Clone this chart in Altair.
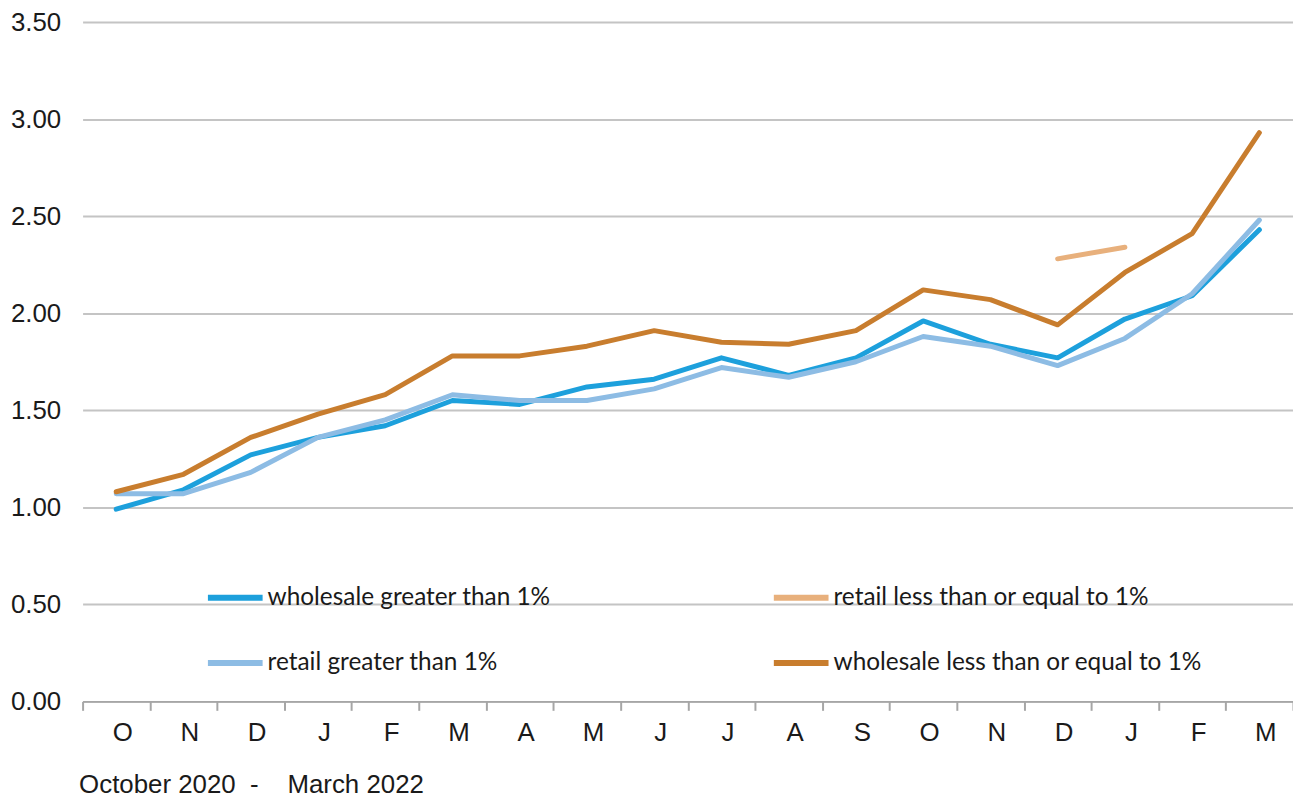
import altair as alt
import pandas as pd

months = ["Oct 2020", "Nov 2020", "Dec 2020", "Jan 2021", "Feb 2021", "Mar 2021",
          "Apr 2021", "May 2021", "Jun 2021", "Jul 2021", "Aug 2021", "Sep 2021",
          "Oct 2021", "Nov 2021", "Dec 2021", "Jan 2022", "Feb 2022", "Mar 2022"]

wholesale_gt1 = [0.99, 1.09, 1.27, 1.36, 1.42, 1.55, 1.53, 1.62, 1.66, 1.77, 1.68, 1.77,
                 1.96, 1.84, 1.77, 1.97, 2.09, 2.43]
retail_gt1 = [1.07, 1.07, 1.18, 1.36, 1.45, 1.58, 1.55, 1.55, 1.61, 1.72, 1.67, 1.75,
              1.88, 1.83, 1.73, 1.87, 2.10, 2.48]
wholesale_le1 = [1.08, 1.17, 1.36, 1.48, 1.58, 1.78, 1.78, 1.83, 1.91, 1.85, 1.84, 1.91,
                 2.12, 2.07, 1.94, 2.21, 2.41, 2.93]
retail_le1 = [None] * 14 + [2.28, 2.34, None, None]

# legend is filled column by column: col 1 = first two, col 2 = last two
series_names = ["wholesale greater than 1%", "retail greater than 1%",
                "retail less than or equal to 1%", "wholesale less than or equal to 1%"]
series_values = [wholesale_gt1, retail_gt1, retail_le1, wholesale_le1]
series_colors = ["#1DA0DC", "#8DBCE4", "#E8B07C", "#C87D2E"]

rows = []
for name, vals in zip(series_names, series_values):
    for m, v in zip(months, vals):
        rows.append({"month": m, "series": name, "value": v})
df = pd.DataFrame(rows)

title_text = "October 2020\u00a0\u00a0-\u00a0\u00a0\u00a0\u00a0March 2022"

chart = alt.Chart(df).mark_line(strokeWidth=5, strokeCap="round", strokeJoin="round").encode(
    x=alt.X("month:N", sort=months, bandPosition=0.5,
            scale=alt.Scale(type="band", paddingInner=0, paddingOuter=0),
            axis=alt.Axis(title=title_text,
                          titleFont="Liberation Sans", titleFontSize=26, titleFontWeight="normal",
                          titleColor="#1a1a1a", titleAnchor="start", titleAlign="left",
                          titleX=-4, titleY=84, titleBaseline="middle",
                          labelExpr="substring(datum.label, 0, 1)", labelAngle=0,
                          labelFont="Liberation Sans", labelFontSize=26, labelColor="#1a1a1a",
                          labelPadding=9, labelOffset=6, tickBand="extent", tickSize=9,
                          tickWidth=2, tickColor="#A6A6A6", domainColor="#A6A6A6",
                          domainWidth=2, grid=False)),
    y=alt.Y("value:Q", scale=alt.Scale(domain=[0, 3.5], nice=False),
            axis=alt.Axis(title=None, values=[0, 0.5, 1, 1.5, 2, 2.5, 3, 3.5], format=".2f",
                          labelFont="Liberation Sans", labelFontSize=26, labelColor="#1a1a1a",
                          labelPadding=22, domain=False, ticks=False, tickSize=0,
                          gridColor="#C4C4C4", gridWidth=2)),
    color=alt.Color("series:N",
                    scale=alt.Scale(domain=series_names, range=series_colors),
                    legend=alt.Legend(title=None, orient="none", legendX=123, legendY=548,
                                      columns=2, columnPadding=212, rowPadding=23,
                                      symbolType="stroke", symbolSize=3025, symbolStrokeWidth=6,
                                      labelFont="Lato", labelFontSize=24.5, labelColor="#1a1a1a",
                                      labelOffset=2, labelLimit=600)),
)

chart = chart.properties(
    width=1217, height=683,
    autosize=alt.AutoSizeParams(type="none"),
    padding={"left": 75, "top": 12, "right": 0, "bottom": 95},
).configure(background="white").configure_view(stroke=None)

chart.save("out.html", embed_options={"renderer": "svg", "actions": False})
